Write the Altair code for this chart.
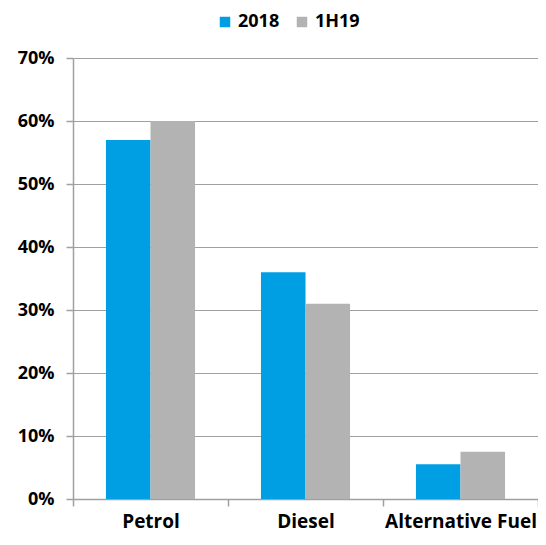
import altair as alt
import pandas as pd

categories = ["Petrol", "Diesel", "Alternative Fuel"]
series = ["2018", "1H19"]
values_2018 = [0.57, 0.36, 0.055]
values_1h19 = [0.60, 0.31, 0.075]
y_ticks = [0, 0.1, 0.2, 0.3, 0.4, 0.5, 0.6, 0.7]
colors = ["#009FE3", "#B3B3B3"]

rows = []
for cat, a, b in zip(categories, values_2018, values_1h19):
    rows.append({"fuel": cat, "period": series[0], "share": a})
    rows.append({"fuel": cat, "period": series[1], "share": b})
df = pd.DataFrame(rows)

FONT = "Open Sans"
AXIS_GRAY = "#A0A0A0"

chart = alt.Chart(df).mark_bar().encode(
    x=alt.X(
        "fuel:N",
        sort=categories,
        scale=alt.Scale(paddingInner=0, paddingOuter=0),
        axis=alt.Axis(
            title=None, labelAngle=0, tickBand="extent",
            labelFont=FONT, labelFontSize=19, labelFontWeight="bold",
            labelColor="#000000", labelPadding=6, labelLimit=300,
            domainColor=AXIS_GRAY, tickColor=AXIS_GRAY, tickSize=7,
            domainWidth=1.5, tickWidth=1.5,
        ),
    ),
    xOffset=alt.XOffset(
        "period:N", sort=series,
        scale=alt.Scale(paddingInner=0, paddingOuter=0.74),
    ),
    y=alt.Y(
        "share:Q",
        scale=alt.Scale(domain=[0, 0.7]),
        axis=alt.Axis(
            values=y_ticks, format=".0%", title=None,
            grid=True, gridColor=AXIS_GRAY, gridWidth=1.2,
            labelFont=FONT, labelFontSize=18, labelFontWeight="bold",
            labelColor="#000000", labelPadding=12,
            domainColor=AXIS_GRAY, tickColor=AXIS_GRAY, tickSize=7,
            domainWidth=1.5, tickWidth=1.5,
        ),
    ),
    color=alt.Color(
        "period:N", sort=series,
        scale=alt.Scale(domain=series, range=colors),
        legend=alt.Legend(
            orient="none", legendX=143, legendY=-45, direction="horizontal",
            title=None, symbolType="square", symbolSize=110,
            symbolStrokeWidth=0, labelFont=FONT, labelFontSize=18,
            labelFontWeight="bold", labelColor="#000000", columnPadding=13,
        ),
    ),
).properties(
    width=465, height=441,
    padding={"left": 65, "top": 50, "right": 0, "bottom": 38},
    autosize=alt.AutoSizeParams(type="none"),
).configure_view(stroke=None)

chart.save("out.html", embed_options={"renderer": "svg", "actions": False})
